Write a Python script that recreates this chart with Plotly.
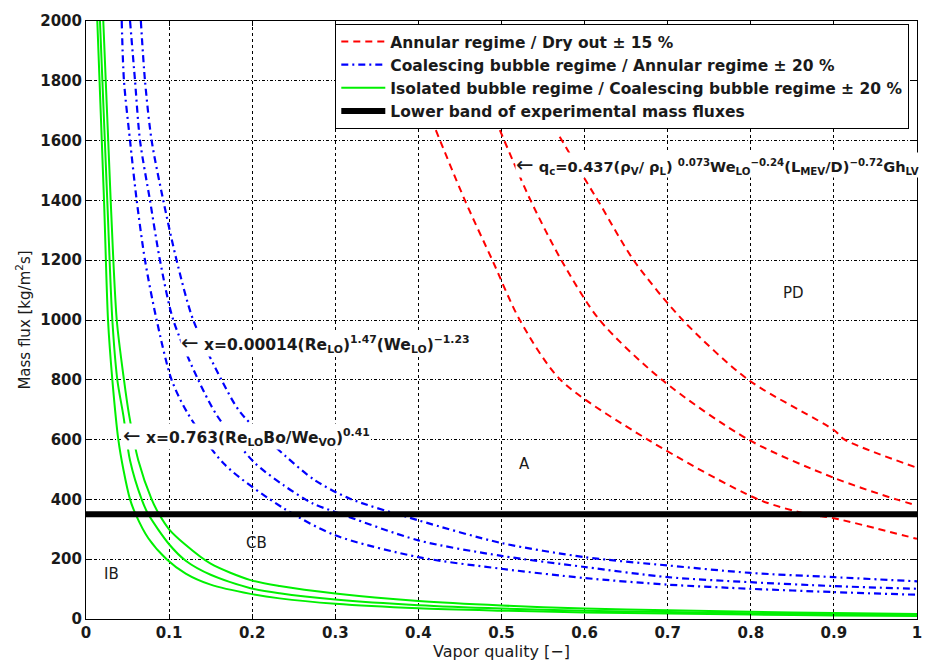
import plotly.graph_objects as go

# ---------------- data ----------------
# Annular regime / Dry out (red, dashed)
red1_x = [0.421, 0.456, 0.489, 0.522, 0.571, 0.676, 0.809, 0.869, 0.900, 1.000]
red1_y = [1635, 1400, 1200, 1000, 800, 600, 400, 350, 337, 268]
red2_x = [0.498, 0.535, 0.572, 0.618, 0.693, 0.797, 0.900, 0.975, 1.000]
red2_y = [1635, 1400, 1200, 1000, 800, 600, 472, 400, 380]
red3_x = [0.570, 0.608, 0.616, 0.659, 0.718, 0.797, 0.900, 0.913, 1.000]
red3_y = [1613, 1436, 1400, 1200, 1000, 800, 632, 600, 506]

# Coalescing bubble / Annular regime (blue, dash-dot)
blue1_x = [0.043, 0.0457, 0.053, 0.061, 0.071, 0.085, 0.103, 0.122, 0.166, 0.238, 0.300, 0.400, 0.500, 0.600, 0.700, 0.800, 0.900, 1.000]
blue1_y = [2000, 1800, 1600, 1400, 1200, 1000, 800, 690, 519, 370, 280, 207, 168, 137, 115, 101, 90, 81]
blue2_x = [0.053, 0.059, 0.065, 0.077, 0.089, 0.105, 0.135, 0.158, 0.202, 0.238, 0.273, 0.300, 0.400, 0.500, 0.600, 0.700, 0.800, 0.900, 1.000]
blue2_y = [2000, 1800, 1600, 1400, 1200, 1000, 800, 679, 525, 447, 386, 358, 263, 211, 174, 140, 123, 110, 101]
blue3_x = [0.066, 0.071, 0.079, 0.093, 0.109, 0.129, 0.163, 0.186, 0.240, 0.275, 0.317, 0.400, 0.500, 0.600, 0.700, 0.800, 0.900, 1.000]
blue3_y = [2000, 1800, 1600, 1400, 1200, 1000, 800, 690, 545, 465, 403, 330, 254, 207, 179, 154, 140, 126]

# Isolated bubble / Coalescing bubble regime (green, solid)
green1_x = [0.0136, 0.0217, 0.0265, 0.0317, 0.0389, 0.045, 0.053, 0.0598, 0.075, 0.097, 0.120, 0.150, 0.198, 0.233, 0.300, 0.400, 0.500, 0.600, 0.700, 0.800, 0.900, 1.000]
green1_y = [2000, 1400, 1000, 800, 600, 500, 400, 350, 270, 200, 152, 115, 84, 69, 51, 36, 28, 22, 18, 15, 12, 10]
green2_x = [0.0168, 0.0256, 0.0317, 0.0377, 0.045, 0.053, 0.067, 0.075, 0.100, 0.120, 0.150, 0.198, 0.233, 0.300, 0.400, 0.500, 0.600, 0.700, 0.800, 0.900, 1.000]
green2_y = [2000, 1400, 1000, 800, 680, 530, 400, 350, 250, 195, 148, 103, 86, 65, 46, 35, 28, 23, 19, 16, 14]
green3_x = [0.0208, 0.0297, 0.037, 0.0457, 0.052, 0.063, 0.079, 0.088, 0.100, 0.119, 0.150, 0.198, 0.233, 0.300, 0.400, 0.500, 0.600, 0.700, 0.800, 0.900, 1.000]
green3_y = [2000, 1400, 1000, 800, 680, 530, 400, 350, 300, 250, 185, 130, 110, 85, 60, 45, 35, 29, 24, 20, 17]

# Lower band of experimental mass fluxes
band_x = [0.0, 1.0]
band_y = [350, 350]

legend_names = [
    "Annular regime / Dry out ± 15 %",
    "Coalescing bubble regime / Annular regime ± 20 %",
    "Isolated bubble regime / Coalescing bubble regime ± 20 %",
    "Lower band of experimental mass fluxes",
]

x_ticks = [0, 0.1, 0.2, 0.3, 0.4, 0.5, 0.6, 0.7, 0.8, 0.9, 1]
x_ticktext = ["0", "0.1", "0.2", "0.3", "0.4", "0.5", "0.6", "0.7", "0.8", "0.9", "1"]
y_ticks = [0, 200, 400, 600, 800, 1000, 1200, 1400, 1600, 1800, 2000]

region_labels = ["IB", "CB", "A", "PD"]
region_x = [0.031, 0.205, 0.528, 0.851]
region_y = [149, 255, 519, 1091]

# ---------------- figure ----------------
FONT = "DejaVu Sans, Arial, sans-serif"
TXT = "#1a1a1a"
ARROW = '<span style="font-size:21px;font-weight:normal">←</span>'
fig = go.Figure()

def add_group(xs_list, ys_list, color, dash, width, name, group):
    for i, (xs, ys) in enumerate(zip(xs_list, ys_list)):
        fig.add_trace(go.Scatter(
            x=xs, y=ys, mode="lines", name=name, legendgroup=group,
            showlegend=(i == 0),
            line=dict(color=color, dash=dash, width=width, shape="spline", smoothing=0.8),
        ))

add_group([red1_x, red2_x, red3_x], [red1_y, red2_y, red3_y],
          "#ff0000", "7px,5px", 2, legend_names[0], "red")
add_group([blue1_x, blue2_x, blue3_x], [blue1_y, blue2_y, blue3_y],
          "#0000ff", "7px,4px,2px,4px", 2.2, legend_names[1], "blue")
add_group([green1_x, green2_x, green3_x], [green1_y, green2_y, green3_y],
          "#00f000", "solid", 2, legend_names[2], "green")
fig.add_trace(go.Scatter(x=band_x, y=band_y, mode="lines", name=legend_names[3],
                         line=dict(color="black", width=6)))

# formula annotations
formula_style = dict(showarrow=False, xanchor="left", yanchor="middle",
                     bgcolor="white", borderpad=0)
fig.add_annotation(x=0.0433, y=611,
                   text=ARROW + "<b> x=0.763(Re<sub>LO</sub>Bo/We<sub>VO</sub>)<sup>0.41</sup></b>",
                   font=dict(family=FONT, size=15.5, color=TXT), **formula_style)
fig.add_annotation(x=0.113, y=922,
                   text=ARROW + "<b> x=0.00014(Re<sub>LO</sub>)<sup>1.47</sup>(We<sub>LO</sub>)<sup>−1.23</sup></b>",
                   font=dict(family=FONT, size=15.5, color=TXT), **formula_style)
fig.add_annotation(x=0.516, y=1519,
                   text=ARROW + "<b> q<sub>c</sub>=0.437(ρ<sub>V</sub>/ ρ<sub>L</sub>) <sup>0.073</sup>We<sub>LO</sub><sup>−0.24</sup>(L<sub>MEV</sub>/D)<sup>−0.72</sup>Gh<sub>LV</sub></b>",
                   font=dict(family=FONT, size=14.6, color=TXT), **formula_style)

for t, xv, yv in zip(region_labels, region_x, region_y):
    fig.add_annotation(x=xv, y=yv, text=t, showarrow=False, xanchor="center", yanchor="middle",
                       font=dict(family=FONT, size=15, color=TXT))

axis_common = dict(
    showline=True, linecolor="black", linewidth=1, mirror="ticks",
    ticks="inside", ticklen=5, tickcolor="black",
    showgrid=True, gridcolor="black", gridwidth=1,
    zeroline=False,
    tickfont=dict(family=FONT, size=15, color=TXT, weight="bold"),
)

fig.update_xaxes(range=[0, 1], tickvals=x_ticks, ticktext=x_ticktext, griddash="dot",
                 title=dict(text="Vapor quality [−]", font=dict(family=FONT, size=16, color=TXT), standoff=3),
                 **axis_common)
fig.update_yaxes(range=[0, 2000], tickvals=y_ticks, griddash="3px,2px,1px,2px",
                 title=dict(text="Mass flux [kg/m<sup>2</sup>s]", font=dict(family=FONT, size=15, color=TXT), standoff=6),
                 **axis_common)

fig.update_layout(
    width=940, height=668,
    margin=dict(l=86, r=23, t=17, b=46),
    paper_bgcolor="white", plot_bgcolor="white",
    showlegend=True,
    legend=dict(x=0.30, y=0.995, xanchor="left", yanchor="top",
                bgcolor="white", bordercolor="black", borderwidth=1,
                font=dict(family=FONT, size=15.5, color=TXT, weight="bold"),
                tracegroupgap=0, itemwidth=44),
)

fig.write_html("out.html")
